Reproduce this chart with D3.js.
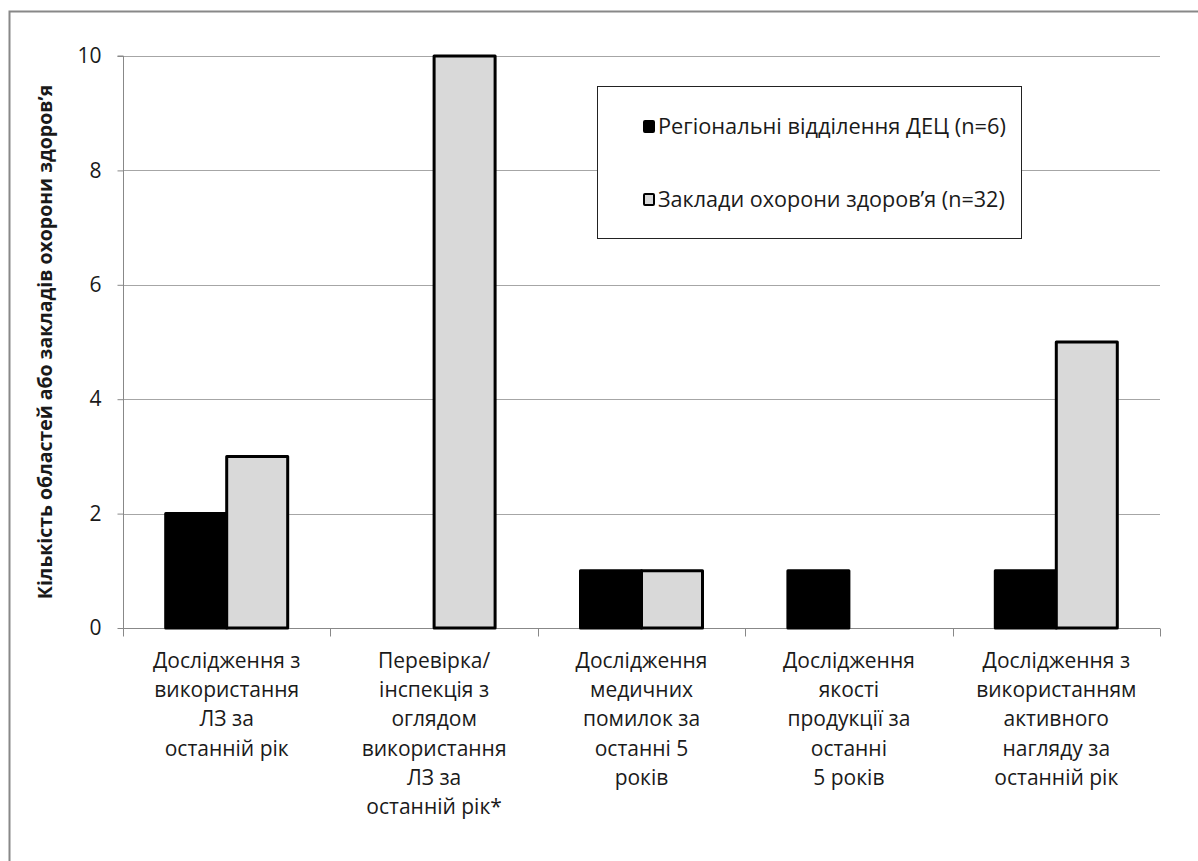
<!DOCTYPE html>
<html>
<head>
<meta charset="utf-8">
<script src="https://cdn.jsdelivr.net/npm/d3@7"></script>
<style>
  html, body { margin: 0; padding: 0; background: #fff; }
  svg text { font-family: "Open Sans", "Noto Sans", sans-serif; fill: #1a1a1a; }
</style>
</head>
<body>
<svg id="chart" width="1198" height="861"></svg>
<script>
// Categories (multi-line labels)
const categories = [
  ["Дослідження з", "використання", "ЛЗ за", "останній рік"],
  ["Перевірка/", "інспекція з", "оглядом", "використання", "ЛЗ за", "останній рік*"],
  ["Дослідження", "медичних", "помилок за", "останні 5", "років"],
  ["Дослідження", "якості", "продукції за", "останні", "5 років"],
  ["Дослідження з", "використанням", "активного", "нагляду за", "останній рік"]
];
const seriesNames = ["Регіональні відділення ДЕЦ (n=6)", "Заклади охорони здоров’я (n=32)"];
const regionalValues = [2, 0, 1, 1, 1];
const facilityValues = [3, 10, 1, 0, 5];
const yTicks = [0, 2, 4, 6, 8, 10];
const yTitle = "Кількість областей або закладів охорони здоров’я";

const svg = d3.select("#chart");

// shrink a text element's font so it spans the given width
function fitWidth(sel, width) {
  const node = sel.node();
  const fs = parseFloat(sel.style("font-size"));
  const w = node.getComputedTextLength();
  sel.style("font-size", (fs * width / w).toFixed(2) + "px");
}

// outer frame
svg.append("rect")
  .attr("x", 9.5).attr("y", 11.5).attr("width", 1230).attr("height", 900)
  .attr("fill", "none").attr("stroke", "#888").attr("stroke-width", 2);

const plot = { left: 123, right: 1160, top: 56, bottom: 628 };

const x0 = d3.scaleBand()
  .domain(d3.range(categories.length))
  .range([plot.left, plot.right])
  .paddingInner(0).paddingOuter(0);

const inner = 61;  // width of each bar
const y = d3.scaleLinear().domain([0, 10]).range([plot.bottom, plot.top]);

// gridlines
svg.append("g").selectAll("line").data(yTicks.filter(d => d > 0)).join("line")
  .attr("x1", plot.left).attr("x2", plot.right)
  .attr("y1", d => Math.round(y(d)) + 0.5).attr("y2", d => Math.round(y(d)) + 0.5)
  .attr("stroke", "#a6a6a6").attr("stroke-width", 1);

// y axis
const yAxis = svg.append("g").attr("transform", `translate(${plot.left + 0.5},0)`)
  .call(d3.axisLeft(y).tickValues(yTicks).tickSize(6).tickPadding(16).tickFormat(d3.format("d")));
yAxis.select(".domain").attr("stroke", "#888").attr("d", `M-6,${plot.top}H0V${plot.bottom}`);
yAxis.selectAll(".tick line").attr("stroke", "#888");
yAxis.selectAll(".tick text").style("font-size", "21px").attr("fill", "#1a1a1a");

// x axis
const xAxis = svg.append("g").attr("transform", `translate(0,${plot.bottom + 0.5})`);
xAxis.append("line").attr("x1", plot.left).attr("x2", plot.right).attr("stroke", "#888");
const boundaries = d3.range(categories.length + 1).map(i => i < categories.length ? x0(i) : plot.right);
xAxis.selectAll("line.tk").data(boundaries).join("line").attr("class", "tk")
  .attr("x1", d => Math.round(d) + 0.5).attr("x2", d => Math.round(d) + 0.5)
  .attr("y1", 0).attr("y2", 8).attr("stroke", "#888");

// bars
const series = [
  { values: regionalValues, fill: "#000000", offset: -1 },
  { values: facilityValues, fill: "#d9d9d9", offset: 0 }
];
series.forEach(s => {
  svg.append("g").selectAll("rect").data(s.values.map((v, i) => ({ v, i })).filter(d => d.v > 0)).join("rect")
    .attr("x", d => x0(d.i) + x0.bandwidth() / 2 + s.offset * inner)
    .attr("width", inner)
    .attr("y", d => y(d.v))
    .attr("height", d => y(0) - y(d.v))
    .attr("fill", s.fill)
    .attr("stroke", "#000").attr("stroke-width", 3).attr("stroke-linejoin", "round");
});

// category labels
const lineH = 29.2;
categories.forEach((lines, i) => {
  const t = svg.append("text")
    .attr("text-anchor", "middle")
    .style("font-size", "21px");
  lines.forEach((ln, j) => {
    t.append("tspan")
      .attr("x", x0(i) + x0.bandwidth() / 2)
      .attr("y", 668 + j * lineH)
      .text(ln);
  });
});

// y title
const yt = svg.append("text")
  .attr("transform", `translate(52, ${342}) rotate(-90)`)
  .attr("text-anchor", "middle")
  .style("font-size", "18px").style("font-weight", "bold")
  .text(yTitle);
fitWidth(yt, 515);

// legend
const lg = svg.append("g");
lg.append("rect").attr("x", 597.5).attr("y", 86.5).attr("width", 424).attr("height", 152)
  .attr("fill", "#fff").attr("stroke", "#222").attr("stroke-width", 1);
const legY = [127, 200];
series.forEach((s, k) => {
  lg.append("rect").attr("x", 644).attr("y", legY[k] - 6).attr("width", 10).attr("height", 11)
    .attr("fill", s.fill).attr("stroke", "#000").attr("stroke-width", 2).attr("rx", 1);
  const lt = lg.append("text").attr("x", 658).attr("y", legY[k] + 7)
    .style("font-size", "19px").text(seriesNames[k]);
  fitWidth(lt, k === 0 ? 348 : 347);
});
</script>
</body>
</html>
